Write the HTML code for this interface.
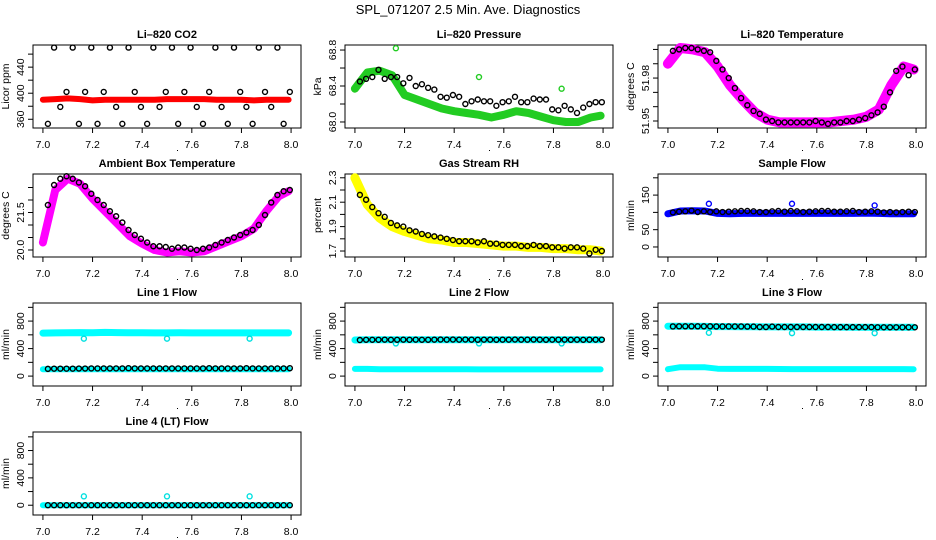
<!DOCTYPE html>
<html><head><meta charset="utf-8"><style>
html,body{margin:0;padding:0;background:#fff;}
svg{display:block;font-family:"Liberation Sans",Arial,sans-serif;}
</style></head><body>
<svg id="chart" width="936" height="540" viewBox="0 0 936 540">
<text x="468" y="14" text-anchor="middle" font-size="13">SPL_071207  2.5 Min. Ave. Diagnostics</text>
</svg>
<script>
// shared time axis values
const T = [7.02,7.045,7.07,7.095,7.12,7.145,7.17,7.195,7.22,7.245,7.27,7.295,7.32,7.345,7.37,7.395,7.42,7.445,7.47,7.495,7.52,7.545,7.57,7.595,7.62,7.645,7.67,7.695,7.72,7.745,7.77,7.795,7.82,7.845,7.87,7.895,7.92,7.945,7.97,7.995];
const CT = [7.0,7.05,7.1,7.15,7.2,7.25,7.3,7.35,7.4,7.45,7.5,7.55,7.6,7.65,7.7,7.75,7.8,7.85,7.9,7.95,7.99];
const OUT_T = [7.165,7.5,7.833];
const xTicks = [7.0,7.2,7.4,7.6,7.8,8.0];
const xTickLabels = ["7.0","7.2","7.4","7.6","7.8","8.0"];

// CO2
const co2Black = [353,470,379,402,470,353,402,470,353,402,470,379,353,470,402,379,353,470,379,402,470,353,402,470,379,353,402,470,379,353,470,402,379,353,470,402,379,470,353,402];
const co2Red = [390,391,392,391,389,390,390,390,390,390,391,391,391,391,390,390,390,389,390,390,390];
// Pressure
const presGreen = [68.37,68.55,68.57,68.52,68.3,68.25,68.2,68.15,68.12,68.1,68.08,68.05,68.08,68.12,68.1,68.06,68.02,68.0,68.0,68.05,68.07];
const presGreenOut = [68.82,68.5,68.37];
const presBlack = [68.45,68.48,68.5,68.58,68.48,68.5,68.5,68.43,68.49,68.4,68.42,68.38,68.36,68.28,68.27,68.3,68.28,68.2,68.23,68.25,68.23,68.23,68.18,68.22,68.23,68.28,68.22,68.22,68.26,68.25,68.25,68.14,68.13,68.18,68.14,68.1,68.16,68.2,68.22,68.22];
// Li-820 temperature
const ltMag = [51.990,52.001,52.0,51.998,51.988,51.975,51.965,51.956,51.951,51.949,51.949,51.949,51.949,51.949,51.950,51.951,51.953,51.958,51.975,51.988,51.986];
const ltBlack = [51.999,52.0,52.001,52.001,52.0,51.999,51.998,51.992,51.986,51.980,51.973,51.966,51.961,51.957,51.955,51.951,51.950,51.949,51.949,51.949,51.949,51.949,51.949,51.950,51.949,51.948,51.949,51.949,51.950,51.950,51.951,51.952,51.954,51.956,51.960,51.970,51.985,51.988,51.982,51.986];
// Ambient box temperature
const abMag = [20.3,22.4,22.85,22.65,22.05,21.55,21.05,20.55,20.25,20.0,19.9,19.95,19.9,19.95,20.15,20.35,20.55,20.85,21.55,22.15,22.35];
const abBlack = [21.8,22.6,22.85,22.95,22.85,22.7,22.55,22.25,22.0,21.8,21.55,21.35,21.1,20.8,20.6,20.45,20.3,20.15,20.15,20.12,20.05,20.1,20.1,20.05,20.0,20.05,20.1,20.2,20.3,20.4,20.5,20.6,20.7,20.8,21.0,21.4,21.9,22.2,22.35,22.4];
// Gas stream RH
const rhYel = [2.3,2.08,1.97,1.9,1.86,1.83,1.8,1.79,1.77,1.77,1.76,1.75,1.74,1.74,1.73,1.73,1.72,1.72,1.71,1.71,1.70];
const rhBlack = [2.16,2.12,2.06,2.01,1.98,1.93,1.91,1.9,1.87,1.86,1.84,1.83,1.82,1.81,1.8,1.79,1.78,1.78,1.78,1.77,1.78,1.76,1.76,1.75,1.75,1.75,1.74,1.74,1.75,1.74,1.74,1.73,1.73,1.72,1.73,1.73,1.72,1.68,1.71,1.7];
// Sample flow
const sfBlue = [96,104,105,104,97,96,97,97,97,97,97,97,97,97,97,97,98,97,96,96,96];
const sfBlueOut = [125,125,120];
const sfBlack = [100,102,103,105,101,103,101,103,101,102,103,104,104,103,101,101,103,104,102,104,103,101,102,103,104,104,102,102,103,104,101,102,103,102,100,101,100,101,102,101];
// Line flows
const l1CyanHi = [625,628,630,632,630,635,632,630,630,628,628,630,628,628,628,628,628,628,628,628,628];
const l1CyanLo = [100,100,100,100,100,100,100,100,100,100,100,100,100,100,100,100,100,100,100,100,100];
const l1CyanOut = [545,545,545];
const l1Black = [105,108,108,108,108,110,110,112,112,112,112,112,112,115,112,112,112,112,112,112,112,112,112,112,112,112,115,112,112,112,112,112,115,112,112,112,112,112,112,115];
const l2CyanHi = [525,528,528,528,528,528,528,528,528,528,528,528,528,528,528,528,528,528,528,528,528];
const l2CyanLo = [105,105,100,100,100,100,100,100,100,100,98,98,98,98,98,98,98,98,98,98,98];
const l2CyanOut = [475,475,475];
const l2Black = [525,528,528,528,530,528,528,530,528,530,528,528,530,532,530,532,530,532,530,528,530,530,528,530,530,532,530,530,532,530,528,530,530,530,528,530,528,530,530,530];
const l3CyanHi = [725,725,725,722,720,720,718,718,715,715,715,715,712,712,712,710,710,710,710,710,710];
const l3CyanLo = [100,130,130,128,108,105,105,105,105,103,102,102,102,102,102,102,102,102,102,102,100];
const l3CyanOut = [630,625,625];
const l3Black = [722,724,724,724,724,724,724,722,722,722,722,722,720,720,714,714,720,714,714,714,714,714,714,714,714,714,712,712,712,712,712,712,712,710,710,710,710,710,710,710];
const l4Cyan = [0,0,0,0,0,0,0,0,0,0,0,0,0,0,0,0,0,0,0,0,0];
const l4CyanOut = [130,130,130];
const l4Black = [0,0,0,0,0,0,0,0,0,0,0,0,0,0,0,0,0,0,0,0,0,0,0,0,0,0,0,0,0,0,0,0,0,0,0,0,0,0,0,0];

const NS = "http://www.w3.org/2000/svg";
const svg = document.getElementById("chart");
function mk(tag, attrs, parent){
  const e = document.createElementNS(NS, tag);
  for (const k in attrs) e.setAttribute(k, attrs[k]);
  (parent||svg).appendChild(e);
  return e;
}
const COLX = [33,345,658], ROWY = [45,174,303,432], W = 268, H = 83;

function panel(o){
  const L = COLX[o.col], Tp = ROWY[o.row], B = Tp + H, R = L + W;
  const g = mk("g", {});
  
  
  const xs = v => L + (v - 6.96) / 1.08 * W;
  const ys = v => B - (v - o.ymin) / (o.ymax - o.ymin) * H;
  const t = mk("text", {x: L + W/2, y: Tp - 7, "text-anchor": "middle", "font-size": 11, "font-weight": "bold"}, g);
  t.textContent = o.title;
  
  
  const box = mk("rect", {x: L, y: Tp, width: W, height: H, fill: "none", stroke: "#000", "stroke-width": 1}, g);
  
  
  const xa = mk("g", {}, g);
  
  
  mk("line", {x1: xs(xTicks[0]), x2: xs(xTicks[xTicks.length-1]), y1: B, y2: B, stroke: "#000"}, xa);
  xTicks.forEach((v, i) => {
    mk("line", {x1: xs(v), x2: xs(v), y1: B, y2: B + 5, stroke: "#000"}, xa);
    const tx = mk("text", {x: xs(v), y: B + 20, "text-anchor": "middle", "font-size": 10.5}, xa);
    tx.textContent = xTickLabels[i];
  });
  mk("rect", {x: L + W/2 + 10, y: B + 22, width: 1, height: 1, fill: "#000"}, xa);
  const ya = mk("g", {}, g);
  
  
  mk("line", {x1: L, x2: L, y1: ys(o.yticks[0]), y2: ys(o.yticks[o.yticks.length-1]), stroke: "#000"}, ya);
  o.yticks.forEach(v => mk("line", {x1: L - 5, x2: L, y1: ys(v), y2: ys(v), stroke: "#000"}, ya));
  o.ylabels.forEach((v, i) => {
    const y = ys(v), x = L - 9;
    const tx = mk("text", {x: x, y: y, "text-anchor": "middle", "font-size": 10.5, transform: `rotate(-90 ${x} ${y})`}, ya);
    tx.textContent = o.ylabelText[i];
  });
  const yl = mk("text", {x: L - 24, y: Tp + H/2, "text-anchor": "middle", "font-size": 10.5, transform: `rotate(-90 ${L-24} ${Tp+H/2})`}, g);
  yl.textContent = o.ylab;
  
  
  (o.bands||[]).forEach(b => {
    const d = b.vals.map((v, i) => (i ? "L" : "M") + xs(CT[i]).toFixed(1) + " " + ys(v).toFixed(1)).join(" ");
    const p = mk("path", {d: d, fill: "none", stroke: b.color, "stroke-width": b.w, "stroke-linejoin": "round", "stroke-linecap": "round"}, g);
    
    
  });
  (o.outs||[]).forEach(b => {
    b.vals.forEach((v, i) => {
      const c = mk("circle", {cx: xs(OUT_T[i]), cy: ys(v), r: 2.5, fill: "none", stroke: b.color, "stroke-width": 1.4}, g);
      
      
    });
  });
  if (o.black) {
    o.black.forEach((v, i) => {
      const c = mk("circle", {cx: xs(T[i]), cy: ys(v), r: 2.5, fill: "none", stroke: "#000", "stroke-width": 1.4}, g);
      
      
    });
  }
}

const flowTicks = [0,200,400,600,800,1000];
panel({name:"co2", title:"Li\u2013820 CO2", col:0, row:0, ymin:346.6, ymax:474, yticks:[360,380,400,420,440,460], ylabels:[360,400,440], ylabelText:["360","400","440"], ylab:"Licor ppm", bands:[{vals:co2Red,color:"#ff0000",w:6,label:"raw-series"}], black:co2Black});
panel({name:"pressure", title:"Li\u2013820 Pressure", col:1, row:0, ymin:67.933, ymax:68.856, yticks:[68.0,68.2,68.4,68.6,68.8], ylabels:[68.0,68.4,68.8], ylabelText:["68.0","68.4","68.8"], ylab:"kPa", bands:[{vals:presGreen,color:"#22cc22",w:8,label:"raw-series"}], outs:[{vals:presGreenOut,color:"#22cc22"}], black:presBlack});
panel({name:"li820-temp", title:"Li\u2013820 Temperature", col:2, row:0, ymin:51.9451, ymax:52.0031, yticks:[51.95,51.96,51.97,51.98,51.99,52.0], ylabels:[51.95,51.98], ylabelText:["51.95","51.98"], ylab:"degrees C", bands:[{vals:ltMag,color:"#ff00ff",w:10,label:"raw-series"}], black:ltBlack});
panel({name:"ambient-temp", title:"Ambient Box Temperature", col:0, row:1, ymin:19.72, ymax:23.04, yticks:[20,20.5,21,21.5,22,22.5], ylabels:[20,21.5], ylabelText:["20.0","21.5"], ylab:"degrees C", bands:[{vals:abMag,color:"#ff00ff",w:8,label:"raw-series"}], black:abBlack});
panel({name:"rh", title:"Gas Stream RH", col:1, row:1, ymin:1.651, ymax:2.331, yticks:[1.7,1.8,1.9,2.0,2.1,2.2,2.3], ylabels:[1.7,1.9,2.1,2.3], ylabelText:["1.7","1.9","2.1","2.3"], ylab:"percent", bands:[{vals:rhYel,color:"#ffff00",w:9,label:"raw-series"}], black:rhBlack});
panel({name:"sample-flow", title:"Sample Flow", col:2, row:1, ymin:-29, ymax:211, yticks:[0,50,100,150,200], ylabels:[0,50,150], ylabelText:["0","50","150"], ylab:"ml/min", bands:[{vals:sfBlue,color:"#0000ff",w:7,label:"raw-series"}], outs:[{vals:sfBlueOut,color:"#0000ff"}], black:sfBlack});
panel({name:"line1-flow", title:"Line 1 Flow", col:0, row:2, ymin:-144, ymax:1063, yticks:flowTicks, ylabels:[0,400,800], ylabelText:["0","400","800"], ylab:"ml/min", bands:[{vals:l1CyanHi,color:"#00ffff",w:7,label:"raw-high"},{vals:l1CyanLo,color:"#00ffff",w:6,label:"raw-low"}], outs:[{vals:l1CyanOut,color:"#00e0e0"}], black:l1Black});
panel({name:"line2-flow", title:"Line 2 Flow", col:1, row:2, ymin:-144, ymax:1063, yticks:flowTicks, ylabels:[0,400,800], ylabelText:["0","400","800"], ylab:"ml/min", bands:[{vals:l2CyanHi,color:"#00ffff",w:7,label:"raw-high"},{vals:l2CyanLo,color:"#00ffff",w:6,label:"raw-low"}], outs:[{vals:l2CyanOut,color:"#00e0e0"}], black:l2Black});
panel({name:"line3-flow", title:"Line 3 Flow", col:2, row:2, ymin:-144, ymax:1063, yticks:flowTicks, ylabels:[0,400,800], ylabelText:["0","400","800"], ylab:"ml/min", bands:[{vals:l3CyanHi,color:"#00ffff",w:7,label:"raw-high"},{vals:l3CyanLo,color:"#00ffff",w:6,label:"raw-low"}], outs:[{vals:l3CyanOut,color:"#00e0e0"}], black:l3Black});
panel({name:"line4-flow", title:"Line 4 (LT) Flow", col:0, row:3, ymin:-143, ymax:1071, yticks:flowTicks, ylabels:[0,400,800], ylabelText:["0","400","800"], ylab:"ml/min", bands:[{vals:l4Cyan,color:"#00ffff",w:6,label:"raw-series"}], outs:[{vals:l4CyanOut,color:"#00e0e0"}], black:l4Black});
</script>
</body></html>
